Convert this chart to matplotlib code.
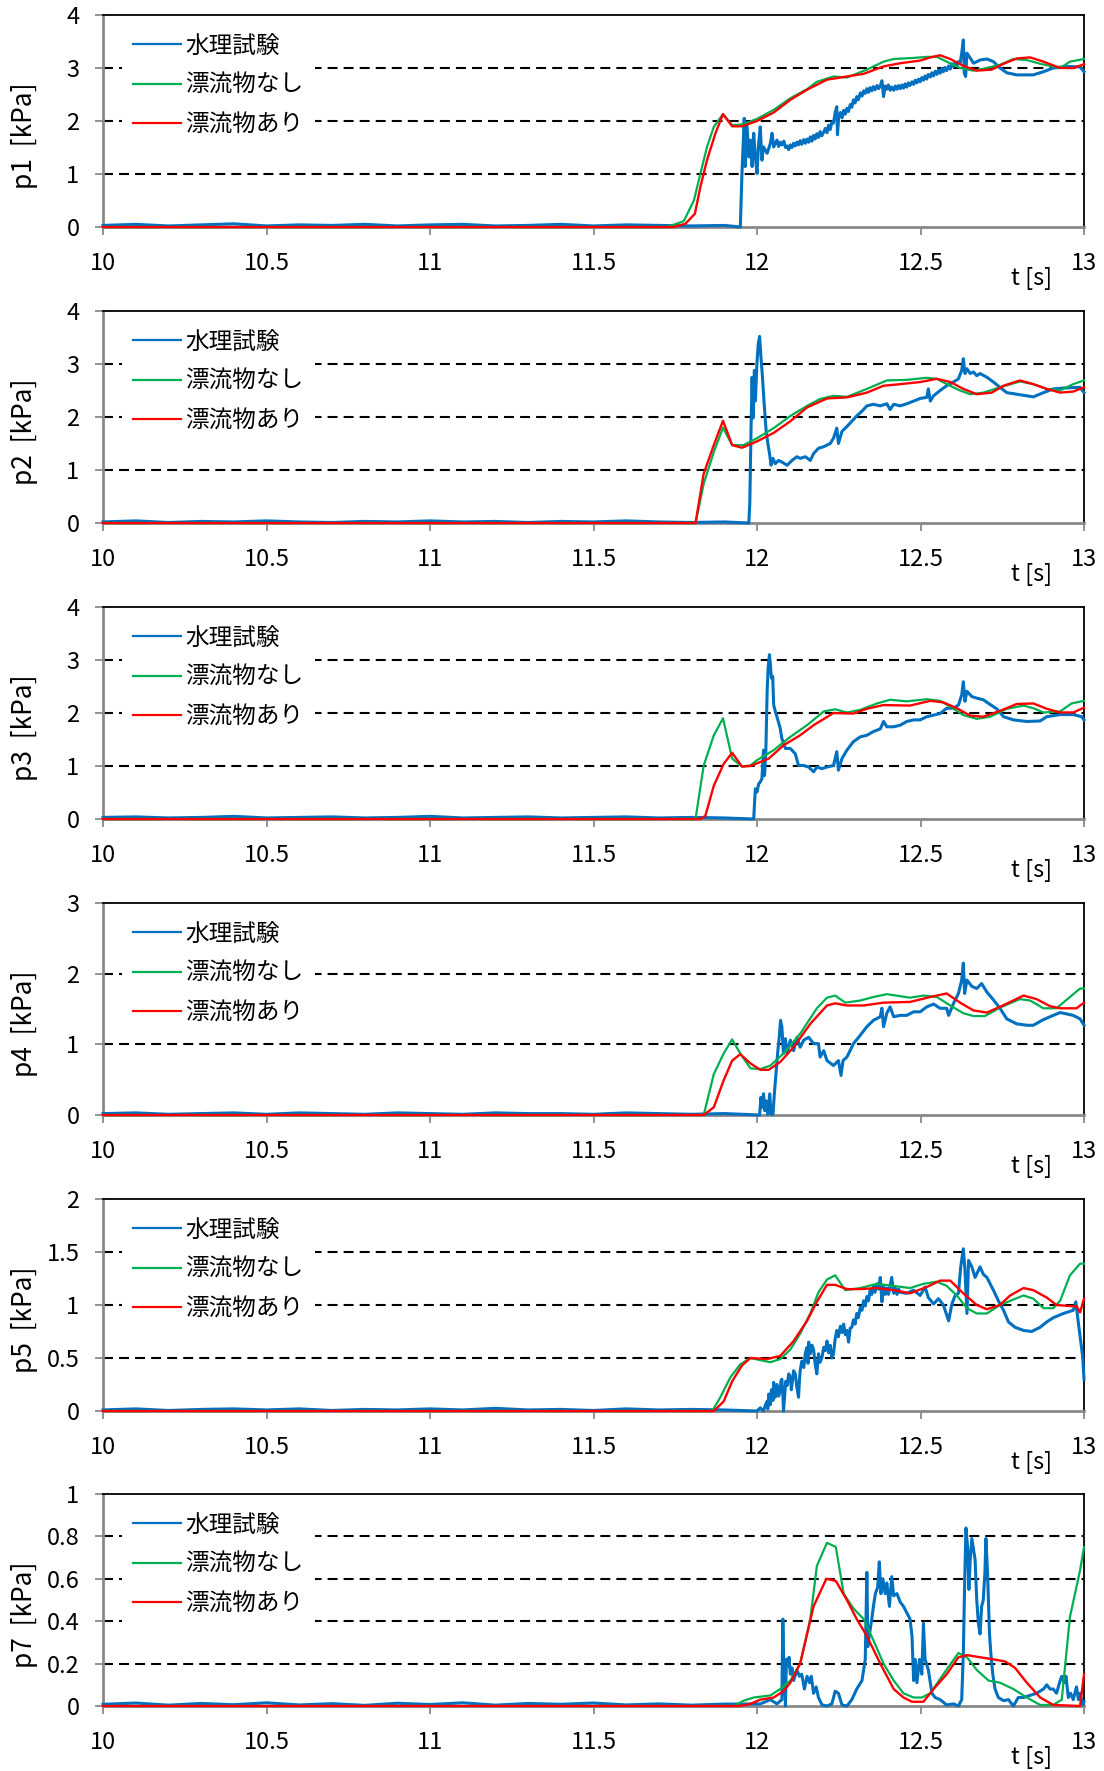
import numpy as np
import matplotlib.pyplot as plt

plt.rcParams['font.family'] = ['Noto Sans CJK JP', 'DejaVu Sans']

# === Data (t [s], pressure [kPa]) ===
# sensor baseline before the wave arrives, sampled every 0.1 s from 10.0 to 11.9
base_t = [10.0, 10.1, 10.2, 10.3, 10.4, 10.5, 10.6, 10.7, 10.8, 10.9,
          11.0, 11.1, 11.2, 11.3, 11.4, 11.5, 11.6, 11.7, 11.8, 11.9]
p1_base = [0.03, 0.05, 0.02, 0.04, 0.06, 0.02, 0.04, 0.03, 0.05, 0.02,
           0.04, 0.05, 0.02, 0.03, 0.05, 0.02, 0.04, 0.03, 0.02, 0.03]
p2_base = [0.02, 0.04, 0.01, 0.03, 0.02, 0.04, 0.02, 0.01, 0.03, 0.02,
           0.04, 0.02, 0.03, 0.01, 0.03, 0.02, 0.04, 0.02, 0.01, 0.02]
p3_base = [0.03, 0.04, 0.02, 0.03, 0.05, 0.02, 0.03, 0.04, 0.02, 0.03,
           0.05, 0.02, 0.03, 0.04, 0.02, 0.03, 0.04, 0.02, 0.03, 0.02]
p4_base = [0.02, 0.03, 0.01, 0.02, 0.03, 0.01, 0.03, 0.02, 0.01, 0.03,
           0.02, 0.01, 0.03, 0.02, 0.02, 0.01, 0.03, 0.02, 0.01, 0.02]
p5_base = [0.01, 0.02, 0.005, 0.015, 0.02, 0.01, 0.02, 0.005, 0.015, 0.01,
           0.02, 0.01, 0.025, 0.01, 0.015, 0.005, 0.02, 0.01, 0.015, 0.01]
p7_base = [0.008, 0.014, 0.004, 0.012, 0.006, 0.015, 0.005, 0.011, 0.003, 0.013,
           0.007, 0.015, 0.004, 0.012, 0.008, 0.014, 0.005, 0.010, 0.004, 0.009]

# p1
p1_exp_t = [11.949, 11.954, 11.961, 11.964, 11.969, 11.975, 11.980, 11.985, 11.990, 11.995,
            12.000, 12.005, 12.010, 12.015, 12.020, 12.031, 12.041, 12.046, 12.051,
            12.061, 12.066, 12.071, 12.076, 12.082, 12.087, 12.092, 12.097, 12.102, 12.107,
            12.112, 12.117, 12.122, 12.127, 12.132, 12.137, 12.143, 12.148, 12.153, 12.158,
            12.163, 12.168, 12.173, 12.178, 12.183, 12.188, 12.193, 12.198, 12.204, 12.209,
            12.214, 12.219, 12.224, 12.229, 12.234, 12.239, 12.244, 12.246, 12.250, 12.255,
            12.260, 12.265, 12.270, 12.275, 12.280, 12.285, 12.290, 12.295, 12.300, 12.305,
            12.310, 12.316, 12.321, 12.326, 12.331, 12.336, 12.341, 12.346, 12.351, 12.356,
            12.361, 12.367, 12.372, 12.377, 12.382, 12.387, 12.392, 12.397, 12.402, 12.407,
            12.412, 12.418, 12.423, 12.428, 12.433, 12.438, 12.443, 12.448, 12.453, 12.458,
            12.463, 12.468, 12.474, 12.479, 12.484, 12.489, 12.494, 12.499, 12.504, 12.509,
            12.514, 12.519, 12.524, 12.530, 12.535, 12.540, 12.545, 12.550, 12.555, 12.560,
            12.565, 12.570, 12.575, 12.580, 12.586, 12.591, 12.596, 12.601, 12.606, 12.611,
            12.616, 12.621,
            12.626, 12.631, 12.634, 12.638, 12.642, 12.652, 12.662, 12.682, 12.703, 12.723,
            12.743, 12.764, 12.794, 12.845, 12.876, 12.906, 12.947, 12.988, 13.0]
p1_exp = [0.0, 1.01, 2.05, 1.14, 1.96, 1.32, 1.64, 1.14, 1.77, 1.32,
          1.01, 1.58, 1.89, 1.26, 1.51, 1.39, 1.58, 1.77, 1.51,
          1.64, 1.52, 1.60, 1.55, 1.62, 1.50, 1.53, 1.46, 1.55, 1.50,
          1.58, 1.53, 1.60, 1.55, 1.63, 1.56, 1.65, 1.58, 1.66, 1.60,
          1.70, 1.62, 1.73, 1.66, 1.76, 1.69, 1.80, 1.72, 1.79, 1.86,
          1.78, 1.92, 1.84, 1.98, 1.96, 2.16, 2.27, 1.74, 2.08, 2.16,
          2.06, 2.20, 2.13, 2.24, 2.18, 2.31, 2.26, 2.40, 2.34, 2.46,
          2.40, 2.53, 2.47, 2.57, 2.52, 2.61, 2.54, 2.63, 2.57, 2.65,
          2.59, 2.67, 2.61, 2.66, 2.76, 2.46, 2.66, 2.60, 2.68, 2.58,
          2.64, 2.58, 2.66, 2.60, 2.67, 2.61, 2.68, 2.62, 2.70, 2.64,
          2.72, 2.67, 2.74, 2.69, 2.77, 2.72, 2.79, 2.74, 2.82, 2.77,
          2.85, 2.79, 2.88, 2.83, 2.91, 2.85, 2.94, 2.88, 2.96, 2.90,
          2.99, 2.93, 3.01, 2.95, 3.04, 2.98, 3.08, 3.03, 3.10, 3.05,
          3.12, 3.08,
          3.28, 3.53, 2.90, 2.84, 3.28, 3.19, 3.09, 3.15, 3.17, 3.12,
          3.00, 2.91, 2.87, 2.87, 2.93, 3.00, 3.03, 3.02, 2.93]
p1_nodeb_t = [10.0, 11.725, 11.776, 11.807, 11.827, 11.847, 11.868, 11.896, 11.924, 11.959,
              12.0, 12.051, 12.102, 12.153, 12.183, 12.234, 12.275, 12.336, 12.387, 12.418,
              12.479, 12.519, 12.55, 12.58, 12.621, 12.662, 12.703, 12.743, 12.784, 12.825,
              12.866, 12.927, 12.957, 13.0]
p1_nodeb = [0, 0, 0.11, 0.50, 1.01, 1.51, 1.89, 2.13, 1.92, 1.94,
            2.04, 2.21, 2.43, 2.60, 2.74, 2.84, 2.82, 2.97, 3.12, 3.17,
            3.19, 3.21, 3.21, 3.12, 3.00, 2.95, 3.00, 3.06, 3.17, 3.15,
            3.08, 3.00, 3.12, 3.17]
p1_deb_t = [10.0, 11.745, 11.781, 11.81, 11.827, 11.847, 11.873, 11.896, 11.924, 11.954,
            12.0, 12.051, 12.102, 12.153, 12.214, 12.275, 12.326, 12.387, 12.438, 12.499,
            12.53, 12.56, 12.591, 12.631, 12.672, 12.718, 12.754, 12.794, 12.835, 12.876,
            12.927, 12.967, 13.0]
p1_deb = [0, 0, 0.06, 0.25, 0.76, 1.26, 1.77, 2.13, 1.90, 1.90,
          2.0, 2.16, 2.40, 2.59, 2.78, 2.84, 2.89, 3.03, 3.09, 3.14,
          3.20, 3.24, 3.17, 3.04, 2.95, 2.97, 3.08, 3.18, 3.20, 3.12,
          3.00, 3.00, 3.07]

# p2
p2_exp_t = [11.975, 11.978, 11.982, 11.985, 11.988, 11.992, 11.995, 12.0, 12.004, 12.008,
            12.012, 12.016, 12.022, 12.028, 12.034, 12.039, 12.043, 12.049, 12.056, 12.066,
            12.076, 12.092, 12.107, 12.122, 12.132, 12.148, 12.163, 12.173, 12.188, 12.204,
            12.224, 12.234, 12.244, 12.249, 12.260, 12.275, 12.290, 12.305, 12.321, 12.336,
            12.356, 12.377, 12.397, 12.407, 12.418, 12.438, 12.458, 12.479, 12.499, 12.519,
            12.524, 12.530, 12.540, 12.560, 12.580, 12.601, 12.616, 12.626, 12.631, 12.636,
            12.642, 12.652, 12.662, 12.672, 12.682, 12.703, 12.723, 12.743, 12.764, 12.794,
            12.825, 12.845, 12.876, 12.906, 12.947, 12.988, 13.0]
p2_exp = [0.0, 0.38, 1.86, 2.75, 1.98, 2.88, 2.30, 3.04, 3.39, 3.52,
          3.13, 2.82, 2.24, 1.73, 1.47, 1.28, 1.09, 1.22, 1.12, 1.18,
          1.15, 1.09, 1.18, 1.25, 1.22, 1.25, 1.18, 1.31, 1.41, 1.44,
          1.50, 1.60, 1.79, 1.50, 1.73, 1.82, 1.92, 2.02, 2.11, 2.21,
          2.24, 2.21, 2.25, 2.14, 2.24, 2.21, 2.25, 2.30, 2.35, 2.37,
          2.53, 2.30, 2.40, 2.50, 2.59, 2.66, 2.72, 2.88, 3.10, 2.82,
          2.91, 2.82, 2.85, 2.78, 2.82, 2.75, 2.66, 2.56, 2.46, 2.43,
          2.40, 2.38, 2.46, 2.53, 2.55, 2.56, 2.46]
p2_nodeb_t = [10.0, 11.812, 11.837, 11.868, 11.896, 11.924, 11.959, 12.0, 12.051, 12.102,
              12.153, 12.193, 12.234, 12.275, 12.336, 12.397, 12.458, 12.519, 12.55, 12.58,
              12.621, 12.652, 12.692, 12.743, 12.804, 12.845, 12.886, 12.927, 12.967, 13.0]
p2_nodeb = [0, 0, 0.74, 1.34, 1.80, 1.47, 1.47, 1.60, 1.79, 2.02,
            2.21, 2.34, 2.40, 2.38, 2.53, 2.69, 2.70, 2.74, 2.72, 2.62,
            2.50, 2.43, 2.46, 2.56, 2.67, 2.62, 2.53, 2.50, 2.62, 2.69]
p2_deb_t = [10.0, 11.812, 11.837, 11.868, 11.896, 11.924, 11.954, 12.0, 12.051, 12.102,
            12.153, 12.214, 12.275, 12.336, 12.387, 12.438, 12.499, 12.55, 12.591, 12.631,
            12.672, 12.718, 12.754, 12.804, 12.845, 12.886, 12.927, 12.967, 13.0]
p2_deb = [0, 0, 0.93, 1.47, 1.93, 1.47, 1.42, 1.54, 1.70, 1.92,
          2.18, 2.35, 2.37, 2.46, 2.59, 2.62, 2.66, 2.72, 2.66, 2.53,
          2.43, 2.46, 2.59, 2.69, 2.62, 2.53, 2.46, 2.48, 2.56]

# p3
p3_exp_t = [11.990, 11.992, 11.995, 12.0, 12.005, 12.010, 12.015, 12.020, 12.023, 12.027,
            12.031, 12.034, 12.038, 12.041, 12.044, 12.048, 12.051, 12.056, 12.061, 12.071,
            12.076, 12.087, 12.102, 12.117, 12.127, 12.143, 12.158, 12.173, 12.183, 12.199,
            12.214, 12.234, 12.244, 12.249, 12.260, 12.275, 12.295, 12.316, 12.336, 12.356,
            12.377, 12.387, 12.397, 12.418, 12.438, 12.458, 12.479, 12.499, 12.519, 12.540,
            12.560, 12.580, 12.601, 12.616, 12.626, 12.631, 12.636, 12.642, 12.657, 12.672,
            12.692, 12.713, 12.733, 12.754, 12.784, 12.825, 12.866, 12.886, 12.927, 12.967,
            12.993, 13.0]
p3_exp = [0.0, 0.25, 0.57, 0.51, 0.66, 0.70, 0.76, 1.30, 0.82, 1.27,
          2.41, 2.85, 3.10, 2.91, 2.66, 2.69, 2.15, 2.03, 1.93, 1.71,
          1.52, 1.33, 1.33, 1.23, 1.01, 1.01, 0.98, 0.89, 0.98, 0.95,
          0.98, 1.01, 1.27, 0.92, 1.14, 1.30, 1.46, 1.55, 1.58, 1.65,
          1.70, 1.84, 1.74, 1.74, 1.77, 1.84, 1.87, 1.87, 1.93, 1.96,
          1.99, 2.09, 2.09, 2.15, 2.34, 2.59, 2.22, 2.41, 2.31, 2.28,
          2.25, 2.16, 2.08, 1.93, 1.87, 1.84, 1.85, 1.93, 1.97, 1.97,
          1.93, 1.87]
p3_nodeb_t = [10.0, 11.812, 11.837, 11.868, 11.896, 11.924, 11.954, 11.980, 12.0, 12.051,
              12.102, 12.153, 12.204, 12.239, 12.275, 12.316, 12.367, 12.407, 12.458, 12.519,
              12.560, 12.591, 12.631, 12.672, 12.713, 12.764, 12.815, 12.845, 12.876, 12.927,
              12.962, 13.0]
p3_nodeb = [0, 0, 1.01, 1.58, 1.90, 1.14, 0.99, 1.01, 1.11, 1.30,
            1.55, 1.77, 2.03, 2.07, 2.01, 2.06, 2.18, 2.25, 2.22, 2.26,
            2.23, 2.12, 1.96, 1.89, 1.93, 2.08, 2.14, 2.09, 2.01, 2.03,
            2.18, 2.23]
p3_deb_t = [10.0, 11.827, 11.842, 11.868, 11.898, 11.924, 11.954, 11.980, 12.036, 12.081,
            12.132, 12.173, 12.234, 12.295, 12.336, 12.387, 12.468, 12.530, 12.570, 12.611,
            12.652, 12.692, 12.743, 12.794, 12.845, 12.886, 12.927, 12.967, 13.0]
p3_deb = [0, 0, 0.06, 0.63, 1.04, 1.25, 0.99, 1.0, 1.14, 1.39,
          1.58, 1.77, 2.0, 1.99, 2.08, 2.15, 2.14, 2.23, 2.20, 2.09,
          1.95, 1.93, 2.04, 2.17, 2.18, 2.08, 2.01, 2.01, 2.10]

# p4
p4_exp_t = [12.008, 12.012, 12.016, 12.020, 12.024, 12.028, 12.033, 12.039, 12.043, 12.049,
            12.053, 12.058, 12.063, 12.068, 12.072, 12.076, 12.081, 12.087, 12.092, 12.102,
            12.112, 12.122, 12.132, 12.143, 12.158, 12.173, 12.188, 12.193, 12.204, 12.214,
            12.234, 12.249, 12.257, 12.263, 12.275, 12.295, 12.316, 12.336, 12.356, 12.377,
            12.382, 12.387, 12.397, 12.407, 12.418, 12.438, 12.458, 12.479, 12.499, 12.519,
            12.540, 12.560, 12.580, 12.586, 12.601, 12.616, 12.626, 12.631, 12.635, 12.642,
            12.657, 12.672, 12.687, 12.703, 12.723, 12.743, 12.764, 12.794, 12.825, 12.845,
            12.876, 12.906, 12.927, 12.967, 12.988, 13.0]
p4_exp = [0.0, 0.25, 0.11, 0.30, 0.06, 0.20, 0.01, 0.30, 0.01, 0.01,
          0.30, 0.58, 0.87, 1.10, 1.34, 1.25, 0.87, 1.08, 0.87, 1.06,
          0.91, 1.10, 0.96, 1.06, 1.10, 1.01, 1.01, 0.82, 0.91, 0.77,
          0.70, 0.77, 0.56, 0.77, 0.82, 1.01, 1.13, 1.25, 1.34, 1.39,
          1.51, 1.25, 1.44, 1.53, 1.39, 1.41, 1.41, 1.46, 1.46, 1.53,
          1.57, 1.51, 1.51, 1.41, 1.58, 1.72, 1.91, 2.15, 1.72, 1.91,
          1.82, 1.79, 1.86, 1.74, 1.63, 1.51, 1.36, 1.29, 1.27, 1.27,
          1.35, 1.41, 1.45, 1.41, 1.36, 1.27]
p4_nodeb_t = [10.0, 11.837, 11.868, 11.898, 11.924, 11.949, 11.980, 12.010, 12.041, 12.081,
              12.132, 12.183, 12.214, 12.239, 12.270, 12.316, 12.356, 12.397, 12.468, 12.509,
              12.550, 12.591, 12.631, 12.662, 12.697, 12.743, 12.804, 12.835, 12.876, 12.916,
              12.957, 12.988, 13.0]
p4_nodeb = [0, 0, 0.58, 0.87, 1.07, 0.87, 0.66, 0.65, 0.70, 0.87,
            1.15, 1.51, 1.66, 1.69, 1.59, 1.62, 1.67, 1.71, 1.66, 1.69,
            1.67, 1.55, 1.44, 1.40, 1.40, 1.52, 1.64, 1.62, 1.51, 1.51,
            1.67, 1.79, 1.79]
p4_deb_t = [10.0, 11.837, 11.868, 11.898, 11.924, 11.949, 11.980, 12.010, 12.036, 12.071,
            12.112, 12.163, 12.214, 12.239, 12.275, 12.326, 12.387, 12.468, 12.530, 12.580,
            12.621, 12.662, 12.703, 12.743, 12.815, 12.855, 12.896, 12.927, 12.977, 13.0]
p4_deb = [0, 0, 0.11, 0.49, 0.77, 0.86, 0.73, 0.64, 0.64, 0.75,
          0.96, 1.29, 1.55, 1.58, 1.55, 1.55, 1.59, 1.60, 1.67, 1.72,
          1.59, 1.48, 1.45, 1.53, 1.69, 1.64, 1.54, 1.51, 1.51, 1.59]

# p5
p5_exp_t = [12.000, 12.010, 12.020, 12.026, 12.031, 12.033, 12.036, 12.038, 12.041, 12.044,
            12.046, 12.049, 12.051, 12.054, 12.056, 12.059, 12.061, 12.066, 12.071, 12.073,
            12.076, 12.079, 12.081, 12.085, 12.088, 12.092, 12.097, 12.102, 12.105, 12.107,
            12.112, 12.117, 12.122, 12.127, 12.130, 12.132, 12.137, 12.143, 12.148, 12.153,
            12.156, 12.158, 12.163, 12.168, 12.173, 12.178, 12.183, 12.188, 12.193, 12.199,
            12.204, 12.209, 12.214, 12.219, 12.224, 12.229, 12.234, 12.239, 12.244, 12.249,
            12.255, 12.260, 12.265, 12.270, 12.275, 12.280, 12.285, 12.290, 12.295, 12.300,
            12.305, 12.310, 12.316, 12.321, 12.326, 12.331, 12.336, 12.341, 12.346, 12.351,
            12.356, 12.361, 12.367, 12.372, 12.377, 12.382, 12.387, 12.392, 12.397, 12.402,
            12.407, 12.412, 12.418, 12.423, 12.428, 12.433, 12.438, 12.458, 12.479, 12.499,
            12.514, 12.524, 12.540, 12.555, 12.570, 12.586, 12.596, 12.606, 12.616, 12.623,
            12.631, 12.636, 12.642, 12.647, 12.657, 12.667, 12.682, 12.692, 12.703, 12.713,
            12.723, 12.738, 12.754, 12.769, 12.789, 12.815, 12.840, 12.866, 12.886, 12.906,
            12.937, 12.967, 12.975, 12.982, 12.990, 12.996, 13.0]
p5_exp = [0.0, 0.03, 0.0, 0.06, 0.09, 0.02, 0.16, 0.08, 0.06, 0.20,
          0.19, 0.10, 0.27, 0.18, 0.13, 0.22, 0.25, 0.14, 0.19, 0.28,
          0.30, 0.15, 0.0, 0.16, 0.28, 0.24, 0.35, 0.32, 0.20, 0.25,
          0.38, 0.35, 0.22, 0.13, 0.30, 0.38, 0.47, 0.41, 0.55, 0.60,
          0.45, 0.65, 0.54, 0.62, 0.58, 0.44, 0.35, 0.54, 0.46, 0.51,
          0.60, 0.57, 0.66, 0.55, 0.62, 0.50, 0.54, 0.68, 0.76, 0.70,
          0.80, 0.74, 0.82, 0.72, 0.76, 0.65, 0.78, 0.79, 0.86, 0.82,
          0.92, 0.88, 0.98, 0.95, 1.04, 0.99, 1.08, 1.04, 1.14, 1.10,
          1.18, 1.12, 1.20, 1.15, 1.26, 1.03, 1.18, 1.10, 1.16, 1.10,
          1.18, 1.26, 1.11, 1.16, 1.10, 1.15, 1.12, 1.11, 1.14, 1.09,
          1.17, 1.07, 1.01, 1.06, 1.00, 0.85, 1.01, 1.09, 1.11, 1.36,
          1.53, 1.33, 0.92, 1.42, 1.36, 1.26, 1.36, 1.29, 1.26, 1.20,
          1.14, 1.04, 0.95, 0.84, 0.79, 0.76, 0.75, 0.79, 0.84, 0.88,
          0.92, 0.95, 1.03, 0.85, 0.66, 0.51, 0.30]
p5_nodeb_t = [10.0, 11.863, 11.888, 11.919, 11.949, 11.980, 12.010, 12.041, 12.071, 12.102,
              12.132, 12.163, 12.188, 12.214, 12.239, 12.270, 12.316, 12.367, 12.418, 12.468,
              12.509, 12.550, 12.580, 12.611, 12.642, 12.672, 12.703, 12.743, 12.815, 12.845,
              12.876, 12.906, 12.927, 12.957, 12.988, 13.0]
p5_nodeb = [0, 0, 0.13, 0.32, 0.44, 0.50, 0.48, 0.46, 0.49, 0.58,
            0.73, 0.92, 1.12, 1.24, 1.28, 1.14, 1.16, 1.20, 1.18, 1.16,
            1.20, 1.22, 1.18, 1.09, 0.97, 0.92, 0.92, 1.00, 1.09, 1.06,
            0.97, 0.97, 1.04, 1.28, 1.39, 1.39]
p5_deb_t = [10.0, 11.868, 11.898, 11.924, 11.954, 11.980, 12.031, 12.071, 12.112, 12.153,
            12.183, 12.214, 12.239, 12.275, 12.316, 12.367, 12.418, 12.468, 12.519, 12.560,
            12.591, 12.631, 12.672, 12.703, 12.743, 12.774, 12.815, 12.845, 12.886, 12.916,
            12.957, 12.977, 12.988, 13.0]
p5_deb = [0, 0, 0.09, 0.28, 0.43, 0.50, 0.49, 0.52, 0.66, 0.85,
          1.03, 1.19, 1.19, 1.15, 1.15, 1.16, 1.14, 1.11, 1.17, 1.23,
          1.23, 1.11, 1.00, 0.96, 1.00, 1.09, 1.16, 1.14, 1.07, 1.00,
          0.99, 0.99, 0.93, 1.06]

# p7
p7_exp_t = [12.010, 12.041, 12.061, 12.076, 12.079, 12.082, 12.087, 12.090, 12.094, 12.098,
            12.102, 12.107, 12.112, 12.122, 12.130, 12.137, 12.145, 12.153, 12.161, 12.166,
            12.173, 12.181, 12.188, 12.199, 12.214, 12.229, 12.239, 12.249, 12.260, 12.275,
            12.290, 12.305, 12.321, 12.331, 12.336, 12.339, 12.344, 12.351, 12.356, 12.362,
            12.369, 12.374, 12.379, 12.385, 12.392, 12.397, 12.405, 12.412, 12.418, 12.428,
            12.438, 12.448, 12.458, 12.468, 12.474, 12.479, 12.484, 12.489, 12.497, 12.504,
            12.509, 12.514, 12.524, 12.535, 12.545, 12.560, 12.580, 12.601, 12.616, 12.626,
            12.631, 12.635, 12.639, 12.644, 12.648, 12.652, 12.657, 12.662, 12.667, 12.672,
            12.677, 12.682, 12.687, 12.692, 12.697, 12.700, 12.705, 12.711, 12.715, 12.721,
            12.728, 12.738, 12.754, 12.769, 12.784, 12.799, 12.815, 12.835, 12.855, 12.876,
            12.886, 12.896, 12.906, 12.916, 12.927, 12.932, 12.939, 12.945, 12.952, 12.959,
            12.967, 12.977, 12.983, 12.988, 12.996, 13.0]
p7_exp = [0.01, 0.03, 0.01, 0.03, 0.41, 0.19, 0.0, 0.22, 0.19, 0.23,
          0.15, 0.18, 0.12, 0.17, 0.14, 0.15, 0.08, 0.14, 0.11, 0.14,
          0.06, 0.09, 0.04, 0.005, 0.0, 0.01, 0.07, 0.06, 0.005, 0.0,
          0.03, 0.08, 0.12, 0.22, 0.63, 0.28, 0.34, 0.41, 0.47, 0.53,
          0.56, 0.68, 0.53, 0.60, 0.53, 0.58, 0.47, 0.61, 0.52, 0.53,
          0.49, 0.47, 0.44, 0.41, 0.33, 0.12, 0.22, 0.11, 0.22, 0.15,
          0.39, 0.22, 0.17, 0.06, 0.04, 0.03, 0.005, 0.01, 0.0, 0.03,
          0.25, 0.58, 0.84, 0.75, 0.55, 0.69, 0.79, 0.74, 0.69, 0.50,
          0.39, 0.34, 0.47, 0.50, 0.63, 0.79, 0.63, 0.34, 0.25, 0.15,
          0.08, 0.04, 0.025, 0.03, 0.0, 0.04, 0.04, 0.05, 0.06, 0.08,
          0.10, 0.08, 0.08, 0.06, 0.12, 0.14, 0.11, 0.14, 0.04, 0.06,
          0.03, 0.09, 0.03, 0.06, 0.005, 0.02]
p7_nodeb_t = [10.0, 11.929, 11.959, 11.990, 12.041, 12.071, 12.102, 12.132, 12.163, 12.183,
              12.214, 12.241, 12.265, 12.295, 12.326, 12.356, 12.387, 12.418, 12.448, 12.479,
              12.504, 12.530, 12.570, 12.616, 12.642, 12.672, 12.708, 12.743, 12.784, 12.825,
              12.866, 12.906, 12.932, 12.957, 12.988, 13.0]
p7_nodeb = [0, 0, 0.025, 0.04, 0.05, 0.08, 0.12, 0.20, 0.41, 0.66,
            0.77, 0.75, 0.53, 0.46, 0.41, 0.31, 0.20, 0.12, 0.06, 0.04,
            0.04, 0.06, 0.15, 0.25, 0.23, 0.17, 0.12, 0.11, 0.08, 0.04,
            0.005, 0.005, 0.03, 0.42, 0.64, 0.75]
p7_deb_t = [10.0, 11.949, 11.980, 12.010, 12.051, 12.081, 12.102, 12.132, 12.173, 12.212,
            12.241, 12.275, 12.305, 12.336, 12.377, 12.418, 12.448, 12.474, 12.509, 12.540,
            12.580, 12.616, 12.642, 12.682, 12.723, 12.759, 12.789, 12.825, 12.866, 12.906,
            12.988, 13.0]
p7_deb = [0, 0, 0.01, 0.03, 0.04, 0.07, 0.11, 0.20, 0.47, 0.60,
          0.59, 0.50, 0.41, 0.33, 0.20, 0.08, 0.04, 0.02, 0.02, 0.08,
          0.15, 0.23, 0.24, 0.23, 0.22, 0.21, 0.18, 0.11, 0.04, 0.005,
          0.0, 0.15]

panels = [
    ('p1', 4, 1, p1_base, p1_exp_t, p1_exp, p1_nodeb_t, p1_nodeb, p1_deb_t, p1_deb),
    ('p2', 4, 1, p2_base, p2_exp_t, p2_exp, p2_nodeb_t, p2_nodeb, p2_deb_t, p2_deb),
    ('p3', 4, 1, p3_base, p3_exp_t, p3_exp, p3_nodeb_t, p3_nodeb, p3_deb_t, p3_deb),
    ('p4', 3, 1, p4_base, p4_exp_t, p4_exp, p4_nodeb_t, p4_nodeb, p4_deb_t, p4_deb),
    ('p5', 2, 0.5, p5_base, p5_exp_t, p5_exp, p5_nodeb_t, p5_nodeb, p5_deb_t, p5_deb),
    ('p7', 1, 0.2, p7_base, p7_exp_t, p7_exp, p7_nodeb_t, p7_nodeb, p7_deb_t, p7_deb),
]

labels = ['水理試験', '漂流物なし', '漂流物あり']
colors = ['#0070C0', '#00B050', '#FF0000']
x_ticks = [10, 10.5, 11, 11.5, 12, 12.5, 13]

# === Plotting ===
W, H = 1104, 1771
fig = plt.figure(figsize=(W / 100, H / 100), dpi=100)
left_px, right_px = 103, 1084
ax_h = 212
tops = [15, 311, 607, 903, 1199, 1494]
axis_gray = '#898989'
fs = 17

for top, (name, ymax, ystep, base, et, ev, nt, nv, dt, dv) in zip(tops, panels):
    ax = fig.add_axes([left_px / W, 1 - (top + ax_h) / H,
                       (right_px - left_px) / W, ax_h / H])

    exp_t = base_t + et
    exp_v = base + ev
    ax.plot(exp_t, exp_v, color=colors[0], lw=2.2, label=labels[0], zorder=3, clip_on=False)
    ax.plot(nt, nv, color=colors[1], lw=1.6, label=labels[1], zorder=4, clip_on=False)
    ax.plot(dt, dv, color=colors[2], lw=1.7, label=labels[2], zorder=5, clip_on=False)

    # dashed grid on the inner ticks only
    yticks = np.arange(0, ymax + ystep / 2, ystep)
    for v in yticks[1:-1]:
        ax.axhline(v, color='black', lw=1.5, ls=(0, (4.8, 2.9)), zorder=1)

    ax.set_xlim(10, 13)
    ax.set_ylim(0, ymax)
    ax.set_xticks(x_ticks)
    ax.set_xticklabels(['%g' % x for x in x_ticks])
    ax.set_yticks(yticks)
    ax.set_yticklabels(['%g' % round(y, 2) for y in yticks])

    for side in ['top', 'right']:
        ax.spines[side].set_color('black')
        ax.spines[side].set_linewidth(1.3)
    for side in ['left', 'bottom']:
        ax.spines[side].set_color(axis_gray)
        ax.spines[side].set_linewidth(2.0)

    ax.tick_params(axis='both', direction='out', length=6, width=1.3,
                   color=axis_gray, labelsize=fs, labelcolor='black')
    ax.tick_params(axis='y', pad=11)
    ax.tick_params(axis='x', pad=12)

    ax.text(0.968, -0.245, 't [s]', transform=ax.transAxes, ha='right', va='center',
            fontsize=fs)
    fig.text(24 / W, 1 - (top + 121) / H, f'{name}  [kPa]', rotation=90,
             ha='center', va='center', fontsize=19)

    leg = ax.legend(loc='upper left', bbox_to_anchor=(0.019, 0.963), fontsize=fs,
                    frameon=True, fancybox=False, framealpha=1, facecolor='white',
                    edgecolor='none', handlelength=2.0, handletextpad=0.18,
                    labelspacing=0.7, borderpad=0.5, borderaxespad=0)
    for line in leg.get_lines():
        line.set_linewidth(1.6)
    leg.set_zorder(6)

plt.savefig('out.png', dpi=100)
plt.close()
